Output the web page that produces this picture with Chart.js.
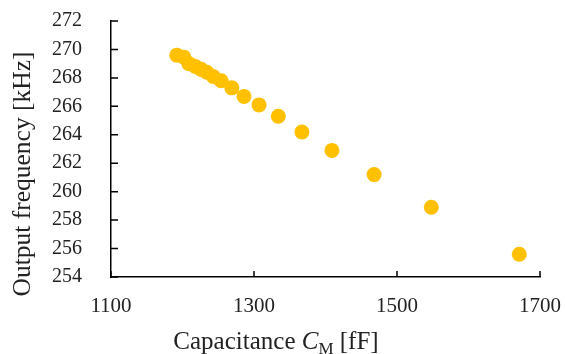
<!DOCTYPE html>
<html>
<head>
<meta charset="utf-8">
<script src="https://cdn.jsdelivr.net/npm/chart.js@4/dist/chart.umd.min.js"></script>
<style>
  html,body{margin:0;padding:0;background:#fff;}
  #c{display:block;}
</style>
</head>
<body>
<canvas id="c" width="565" height="354"></canvas>
<script>
// ---- data ----
const capacitance = [1192, 1202, 1209, 1218, 1226, 1234, 1243, 1254, 1269, 1286, 1307, 1334, 1367, 1409, 1468, 1548, 1671];
const frequency   = [269.6, 269.45, 269.0, 268.8, 268.6, 268.4, 268.1, 267.8, 267.3, 266.7, 266.1, 265.3, 264.2, 262.9, 261.2, 258.9, 255.6];
const xTicks = [1100, 1300, 1500, 1700];
const yTicks = [254, 256, 258, 260, 262, 264, 266, 268, 270, 272];
const yTitle = 'Output frequency [kHz]';
const xTitleParts = ['Capacitance ', 'C', 'M', ' [fF]'];

const FONT = '"Liberation Serif", "Times New Roman", serif';
const TXT = '#222';

const points = capacitance.map((c, i) => ({x: c, y: frequency[i]}));

const tickPlugin = {
  id: 'innerTicks',
  afterDraw(chart) {
    const ctx = chart.ctx;
    const xs = chart.scales.x, ys = chart.scales.y;
    const ca = chart.chartArea;
    ctx.save();
    ctx.strokeStyle = '#000';
    ctx.lineWidth = 1.5;
    ctx.beginPath();
    yTicks.forEach(v => {
      const y = ys.getPixelForValue(v);
      ctx.moveTo(ca.left, y);
      ctx.lineTo(ca.left + 7, y);
    });
    xTicks.forEach(v => {
      const x = xs.getPixelForValue(v);
      ctx.moveTo(x, ca.bottom);
      ctx.lineTo(x, ca.bottom - 6);
    });
    ctx.stroke();

    ctx.fillStyle = TXT;
    // y axis title (rotated)
    ctx.save();
    ctx.translate(30, 174);
    ctx.rotate(-Math.PI / 2);
    ctx.font = `25.5px ${FONT}`;
    ctx.textAlign = 'center';
    ctx.textBaseline = 'alphabetic';
    ctx.fillText(yTitle, 0, 0);
    ctx.restore();

    // x axis title with italic C and subscript M
    ctx.textBaseline = 'alphabetic';
    ctx.textAlign = 'left';
    const size = 25;
    const fonts = [
      `${size}px ${FONT}`,
      `italic ${size}px ${FONT}`,
      `${Math.round(size*0.68)}px ${FONT}`,
      `${size}px ${FONT}`
    ];
    const offs = [0, 0, 5, 0];
    let total = 0;
    xTitleParts.forEach((t, i) => { ctx.font = fonts[i]; total += ctx.measureText(t).width; });
    let x = 276 - total / 2;
    const base = 349;
    xTitleParts.forEach((t, i) => {
      ctx.font = fonts[i];
      ctx.fillText(t, x, base + offs[i]);
      x += ctx.measureText(t).width;
    });
    ctx.restore();
  }
};

new Chart(document.getElementById('c'), {
  type: 'scatter',
  data: {
    datasets: [{
      data: points,
      backgroundColor: '#FFC000',
      borderColor: '#FFC000',
      borderWidth: 0,
      pointRadius: 7.5,
      pointHoverRadius: 7.5
    }]
  },
  options: {
    responsive: false,
    animation: false,
    devicePixelRatio: 1,
    layout: {autoPadding: false, padding: {top: 21, right: 25, left: 0, bottom: 0}},
    plugins: {legend: {display: false}, tooltip: {enabled: false}},
    scales: {
      x: {
        type: 'linear',
        min: 1100, max: 1700,
        afterBuildTicks(s) { s.ticks = xTicks.map(v => ({value: v})); },
        afterFit(s) { s.height = 77; s.paddingLeft = 0; s.paddingRight = 0; },
        grid: {display: false, drawTicks: false},
        border: {display: true, color: '#000', width: 1.5},
        ticks: {
          padding: 17,
          autoSkip: false,
          color: TXT,
          font: {family: FONT, size: 21},
          maxRotation: 0,
          callback: v => String(v)
        }
      },
      y: {
        type: 'linear',
        min: 254, max: 272,
        afterBuildTicks(s) { s.ticks = yTicks.map(v => ({value: v})); },
        afterFit(s) { s.width = 111; s.paddingTop = 0; s.paddingBottom = 0; },
        grid: {display: false, drawTicks: false},
        border: {display: true, color: '#000', width: 1.5},
        ticks: {
          padding: 29,
          autoSkip: false,
          color: TXT,
          font: {family: FONT, size: 20},
          callback: v => String(v)
        }
      }
    }
  },
  plugins: [tickPlugin]
});
</script>
</body>
</html>
